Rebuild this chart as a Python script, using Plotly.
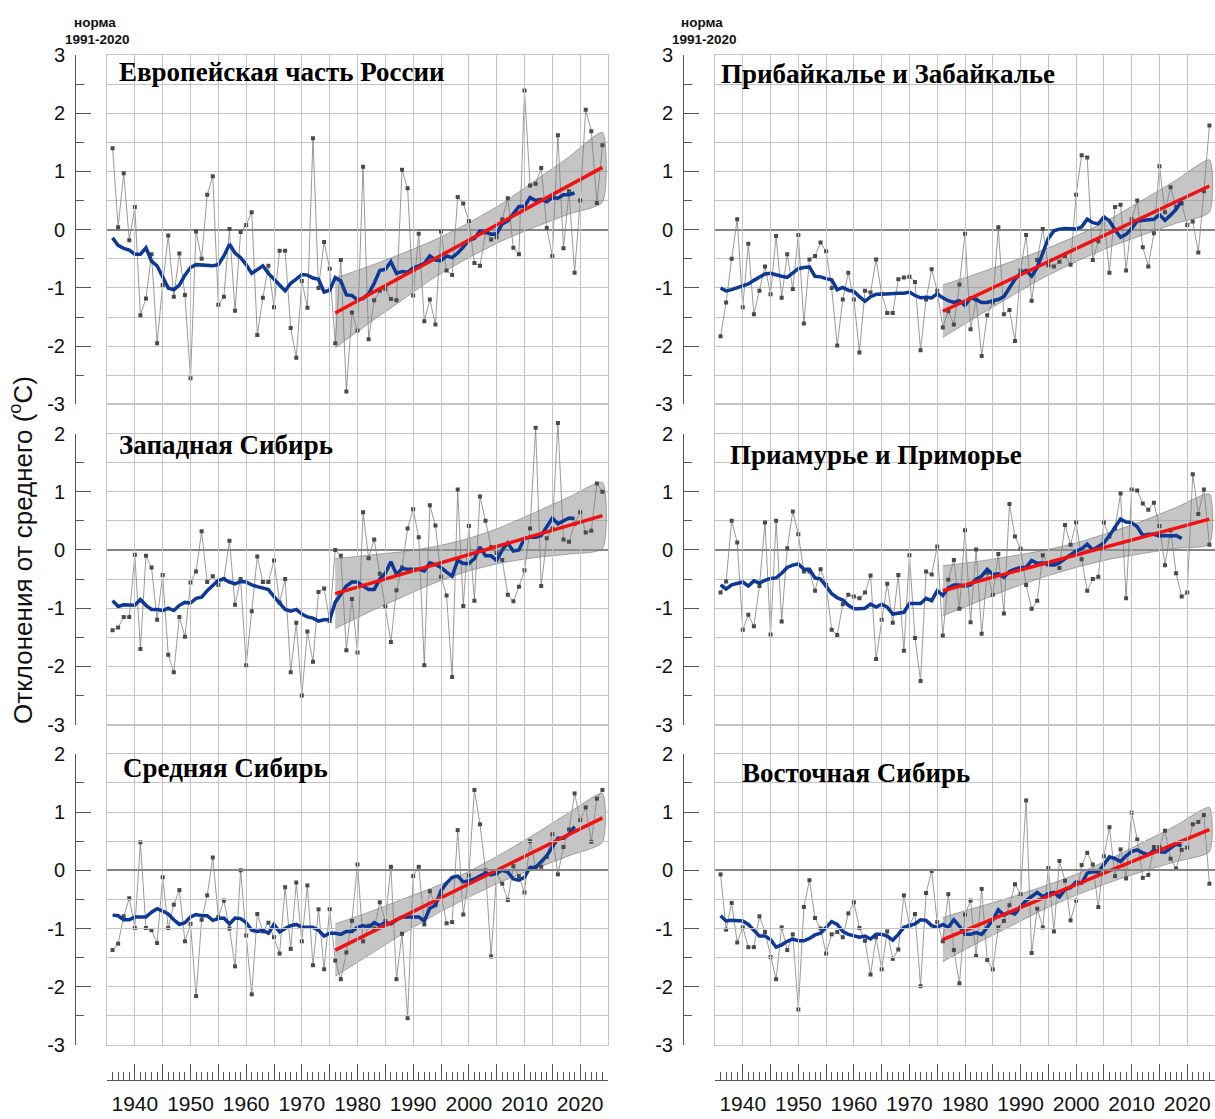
import plotly.graph_objects as go

# ---------------------------------------------------------------- data
years = list(range(1936, 2025))
smooth_years = list(range(1936, 2020))
trend_years = [1976, 2024]
band_years = [1976, 1982, 1988, 1994, 2000, 2006, 2012, 2018, 2024]

grid_years = [1935, 1940, 1945, 1950, 1955, 1960, 1965, 1970, 1975, 1980,
              1985, 1990, 1995, 2000, 2005, 2010, 2015, 2020, 2025]
grid_year_labels = ["", "1940", "", "1950", "", "1960", "", "1970", "", "1980",
                    "", "1990", "", "2000", "", "2010", "", "2020", ""]

y_ticks_top = [-3, -2, -1, 0, 1, 2, 3]
y_labels_top = ["-3", "-2", "-1", "0", "1", "2", "3"]
y_ticks_low = [-3, -2, -1, 0, 1, 2]
y_labels_low = ["-3", "-2", "-1", "0", "1", "2"]

titles = ["Европейская часть России", "Прибайкалье и Забайкалье",
          "Западная Сибирь", "Приамурье и Приморье",
          "Средняя Сибирь", "Восточная Сибирь"]

# Европейская часть России
eur_annual = [1.40, 0.04, 0.97, -0.18, 0.39, -1.47, -1.18, -0.42, -1.95, -0.95,
              -0.10, -1.15, -0.41, -1.12, -2.55, -0.03, -0.50, 0.60, 0.92, -1.29,
              -1.15, 0.01, -1.39, -0.04, 0.08, 0.30, -1.81, -1.17, -0.62, -1.33,
              -0.36, -0.36, -1.69, -2.20, -0.88, -1.34, 1.57, -1.00, -0.21, -0.67,
              -1.95, -0.52, -2.78, -1.42, -1.73, 1.08, -1.88, -1.21, -1.05, -1.02,
              -1.19, -1.21, 1.03, 0.71, -1.13, -0.07, -1.57, -1.20, -1.63, -0.03,
              -0.70, -0.78, 0.56, 0.45, 0.15, -0.57, -0.62, -0.05, -0.17, -0.13,
              0.18, 0.54, -0.31, -0.42, 2.39, 0.76, 0.79, 1.06, 0.03, -0.45,
              1.62, -0.32, 0.66, -0.74, 0.50, 2.06, 1.69, 0.46, 1.45]
eur_smooth = [-0.14, -0.27, -0.32, -0.35, -0.42, -0.42, -0.31, -0.54, -0.62, -0.80,
              -1.00, -1.03, -0.95, -0.78, -0.65, -0.60, -0.61, -0.61, -0.62, -0.60,
              -0.45, -0.25, -0.40, -0.48, -0.60, -0.75, -0.68, -0.62, -0.75, -0.84,
              -0.95, -1.05, -0.92, -0.85, -0.77, -0.78, -0.83, -0.85, -1.07, -1.04,
              -0.82, -0.88, -1.12, -1.13, -1.21, -1.18, -1.10, -0.92, -0.70, -0.68,
              -0.55, -0.75, -0.72, -0.73, -0.66, -0.62, -0.58, -0.45, -0.52, -0.53,
              -0.45, -0.48, -0.40, -0.30, -0.18, -0.15, -0.02, -0.03, -0.08, -0.07,
              0.10, 0.15, 0.28, 0.40, 0.40, 0.55, 0.50, 0.52, 0.48, 0.55,
              0.54, 0.60, 0.60, 0.63]
eur_trend = [-1.43, 1.07]
eur_band_hi = [-0.83, -0.63, -0.41, -0.17, 0.12, 0.45, 0.85, 1.25, 1.67]
eur_band_lo = [-2.03, -1.61, -1.21, -0.81, -0.48, -0.19, 0.05, 0.27, 0.47]

# Западная Сибирь
wsib_annual = [-1.38, -1.33, -1.15, -1.15, -0.08, -1.70, -0.10, -0.30, -1.20, -0.43,
               -1.80, -2.10, -1.15, -1.49, -0.56, -0.37, 0.32, -0.55, -0.45, -0.60,
               -0.50, 0.16, -0.94, -0.50, -1.98, -1.05, -0.11, -0.55, -0.55, -0.18,
               -0.90, -0.50, -2.10, -1.25, -2.50, -1.40, -1.92, -0.72, -0.66, -1.22,
               0.00, -0.10, -1.72, -0.84, -1.76, 0.65, -0.14, 0.18, -0.41, -0.97,
               -1.58, -0.69, -0.30, 0.37, 0.70, 0.22, -1.98, 0.77, 0.42, -0.46,
               -0.78, -2.18, 1.04, -0.96, 0.41, -0.87, 0.92, 0.50, 0.05, -0.05,
               -0.17, -0.77, -0.88, -0.63, -0.35, 0.37, 2.10, -0.62, 0.20, 0.37,
               2.18, 0.18, 0.14, 0.45, 0.65, 0.30, 0.33, 1.14, 1.00]
wsib_smooth = [-0.87, -0.97, -0.94, -0.95, -0.95, -0.85, -0.95, -1.02, -1.02, -1.04,
               -1.00, -1.04, -0.95, -0.90, -0.91, -0.83, -0.81, -0.70, -0.60, -0.52,
               -0.50, -0.55, -0.58, -0.54, -0.55, -0.60, -0.63, -0.65, -0.68, -0.80,
               -0.90, -1.02, -1.05, -1.02, -1.10, -1.15, -1.17, -1.22, -1.20, -1.20,
               -0.90, -0.75, -0.62, -0.55, -0.55, -0.62, -0.68, -0.68, -0.50, -0.40,
               -0.20, -0.42, -0.32, -0.33, -0.33, -0.33, -0.36, -0.22, -0.25, -0.30,
               -0.38, -0.45, -0.18, -0.23, -0.23, -0.15, 0.05, -0.10, -0.10, -0.18,
               0.00, 0.12, -0.02, 0.00, 0.20, 0.22, 0.22, 0.25, 0.40, 0.55,
               0.45, 0.50, 0.55, 0.54]
wsib_trend = [-0.75, 0.59]
wsib_band_hi = [-0.15, -0.09, -0.03, 0.06, 0.20, 0.40, 0.65, 0.91, 1.16]
wsib_band_lo = [-1.35, -1.07, -0.81, -0.56, -0.36, -0.22, -0.13, -0.07, 0.02]

# Средняя Сибирь
csib_annual = [-1.37, -1.26, -0.79, -0.48, -0.99, 0.48, -0.99, -1.03, -1.25, -0.12,
               -0.99, -0.59, -0.34, -1.22, -0.92, -2.16, -0.85, -0.43, 0.22, -0.80,
               -0.52, -1.00, -1.65, 0.00, -1.12, -2.13, -0.75, -1.05, -0.90, -1.15,
               -1.43, -0.29, -1.35, -0.21, -1.22, -0.26, -1.63, -0.67, -1.70, -0.67,
               -1.55, -1.87, -1.41, -0.87, 0.10, -1.22, -0.95, -1.00, -0.55, -0.87,
               0.06, -1.87, -1.09, -2.54, -0.10, 0.06, -0.93, -0.36, -0.60, -0.40,
               -0.91, -0.89, 0.69, -0.76, -0.09, 1.38, 0.79, 0.00, -1.48, -0.05,
               -0.23, -0.51, 0.07, -0.10, -0.38, 0.50, 0.05, 0.06, 0.23, 0.62,
               -0.07, 0.40, 0.70, 1.32, 0.86, 1.08, 0.49, 1.23, 1.38]
csib_smooth = [-0.77, -0.78, -0.85, -0.85, -0.80, -0.80, -0.80, -0.72, -0.66, -0.70,
               -0.75, -0.85, -0.93, -0.90, -0.80, -0.76, -0.78, -0.78, -0.86, -0.83,
               -0.82, -0.92, -0.82, -0.83, -0.90, -1.03, -1.05, -1.03, -1.08, -0.93,
               -1.06, -1.00, -0.95, -0.93, -0.98, -0.98, -0.98, -1.03, -1.13, -1.08,
               -1.08, -1.10, -1.05, -1.05, -0.98, -0.95, -0.98, -0.90, -0.95, -0.90,
               -0.92, -0.85, -0.80, -0.80, -0.80, -0.80, -0.87, -0.65, -0.60, -0.35,
               -0.22, -0.12, -0.10, -0.20, -0.18, -0.15, -0.10, -0.05, -0.08, -0.05,
               0.00, -0.03, -0.15, -0.17, -0.12, 0.05, 0.05, 0.15, 0.25, 0.40,
               0.55, 0.55, 0.62, 0.75]
csib_trend = [-1.37, 0.90]
csib_band_hi = [-0.92, -0.72, -0.50, -0.28, -0.02, 0.29, 0.63, 0.99, 1.32]
csib_band_lo = [-1.82, -1.46, -1.10, -0.76, -0.46, -0.19, 0.03, 0.25, 0.48]

# Прибайкалье и Забайкалье
baik_annual = [-1.83, -1.25, -0.50, 0.18, -1.33, -0.24, -1.45, -1.05, -0.63, -1.11,
               -0.11, -1.17, -0.42, -1.02, -0.09, -1.61, -0.51, -0.45, -0.22, -0.37,
               -1.00, -1.99, -1.20, -0.74, -1.20, -2.11, -1.05, -1.08, -0.51, -1.10,
               -1.43, -1.43, -0.85, -0.82, -0.81, -0.90, -2.07, -1.20, -0.68, -1.05,
               -1.68, -1.40, -1.63, -0.94, -0.07, -1.71, -1.20, -2.17, -1.47, -1.25,
               0.04, -1.45, -1.38, -1.91, -0.70, -0.09, -1.22, -0.52, 0.01, -0.61,
               -0.63, -0.55, -0.45, -0.60, 0.60, 1.28, 1.24, -0.52, -0.20, 0.20,
               -0.74, 0.39, 0.43, -0.70, 0.18, 0.50, -0.30, -0.63, -0.06, 1.09,
               0.30, 0.73, 0.39, 0.45, 0.08, 0.14, -0.39, 0.66, 1.79]
baik_smooth = [-1.00, -1.05, -1.03, -1.00, -0.97, -0.93, -0.87, -0.82, -0.76, -0.75,
               -0.78, -0.80, -0.82, -0.74, -0.67, -0.65, -0.64, -0.80, -0.81, -0.84,
               -0.86, -1.03, -0.99, -1.04, -1.06, -1.15, -1.23, -1.15, -1.11, -1.11,
               -1.10, -1.09, -1.09, -1.09, -1.07, -1.13, -1.17, -1.16, -1.17, -1.10,
               -1.17, -1.22, -1.25, -1.22, -1.30, -1.17, -1.20, -1.25, -1.25, -1.22,
               -1.20, -1.15, -1.00, -0.85, -0.75, -0.70, -0.80, -0.65, -0.40, -0.15,
               -0.02, 0.01, 0.02, 0.02, 0.01, 0.05, 0.18, 0.12, 0.10, 0.22,
               0.15, 0.00, -0.13, -0.08, 0.02, 0.15, 0.16, 0.17, 0.18, 0.26,
               0.16, 0.25, 0.35, 0.50]
baik_trend = [-1.40, 0.75]
baik_band_hi = [-0.95, -0.76, -0.56, -0.35, -0.11, 0.18, 0.51, 0.85, 1.20]
baik_band_lo = [-1.85, -1.50, -1.16, -0.83, -0.55, -0.30, -0.09, 0.11, 0.30]

# Приамурье и Приморье
amur_annual = [-0.73, -0.54, 0.50, 0.13, -1.37, -1.11, -1.31, -0.62, 0.47, -1.45,
               0.50, -1.23, 0.03, 0.66, 0.27, -0.37, -0.37, -0.70, -0.33, -0.60,
               -1.37, -1.46, -0.93, -0.77, -0.80, -0.83, -0.73, -0.44, -1.87, -1.20,
               -0.58, -1.25, -0.43, -1.73, -0.09, -1.51, -2.25, -0.37, -0.42, 0.06,
               -1.47, -0.51, -0.17, -1.01, 0.34, -1.24, 0.01, -1.44, -0.39, -0.77,
               -0.07, -1.09, 0.79, 0.23, 0.02, -0.60, -1.01, -0.87, -0.09, -0.25,
               -0.20, -0.31, 0.43, 0.09, 0.47, -0.16, -0.70, -0.50, -0.46, 0.47,
               0.23, 0.37, 0.97, -0.83, 1.04, 1.02, 0.80, 0.69, 0.81, 0.41,
               -0.26, 0.34, -0.40, -0.80, -0.73, 1.30, 0.62, 1.04, 0.09]
amur_smooth = [-0.60, -0.67, -0.60, -0.57, -0.55, -0.62, -0.53, -0.57, -0.52, -0.49,
               -0.48, -0.40, -0.30, -0.26, -0.24, -0.33, -0.33, -0.48, -0.50, -0.62,
               -0.75, -0.82, -0.86, -0.95, -1.01, -1.01, -1.00, -0.93, -0.98, -0.93,
               -0.98, -1.10, -1.09, -1.07, -0.92, -0.92, -0.92, -0.83, -0.87, -0.70,
               -0.78, -0.65, -0.60, -0.60, -0.62, -0.60, -0.50, -0.45, -0.33, -0.42,
               -0.41, -0.47, -0.37, -0.33, -0.30, -0.30, -0.18, -0.23, -0.22, -0.25,
               -0.26, -0.22, -0.15, -0.08, -0.02, 0.02, 0.10, 0.00, 0.06, 0.12,
               0.25, 0.40, 0.53, 0.48, 0.47, 0.40, 0.25, 0.27, 0.27, 0.24,
               0.25, 0.24, 0.25, 0.20]
amur_trend = [-0.70, 0.53]
amur_band_hi = [-0.27, -0.20, -0.11, -0.01, 0.12, 0.30, 0.50, 0.73, 0.96]
amur_band_lo = [-1.13, -0.90, -0.67, -0.47, -0.30, -0.16, -0.06, 0.03, 0.10]

# Восточная Сибирь
esib_annual = [-0.07, -1.02, -0.56, -1.24, -0.98, -1.32, -1.32, -0.79, -1.06, -1.49,
               -1.87, -0.98, -1.37, -1.10, -2.39, -0.63, -0.17, -0.82, -1.00, -1.43,
               -1.10, -1.06, -1.15, -0.74, -0.55, -0.99, -1.21, -1.79, -1.15, -1.70,
               -1.05, -1.52, -1.36, -0.43, -0.95, -0.75, -1.99, -0.39, -0.01, -0.89,
               -1.22, -0.41, -1.37, -1.94, -0.76, -0.52, -1.47, -0.32, -1.54, -1.70,
               -0.98, -0.87, -0.60, -0.24, -0.41, 1.20, -1.42, -0.66, -0.98, 0.04,
               -1.05, 0.16, -0.18, -0.86, -0.52, 0.09, 0.30, 0.10, -0.63, 0.24,
               0.74, -0.10, 0.36, -0.14, 0.99, 0.53, -0.13, -0.08, 0.40, 0.40,
               0.68, 0.20, 0.03, 0.35, 0.39, 0.79, 0.83, 0.95, -0.23]
esib_smooth = [-0.78, -0.87, -0.86, -0.86, -0.87, -0.93, -1.02, -1.13, -1.13, -1.19,
               -1.32, -1.28, -1.22, -1.18, -1.21, -1.21, -1.17, -1.11, -1.08, -0.98,
               -0.88, -0.93, -1.05, -1.10, -1.12, -1.15, -1.13, -1.18, -1.10, -1.10,
               -1.13, -1.20, -1.10, -0.98, -0.95, -0.92, -0.85, -0.86, -0.95, -0.98,
               -0.93, -0.98, -0.85, -0.96, -1.10, -1.10, -1.07, -1.10, -0.98, -0.85,
               -0.68, -0.77, -0.72, -0.75, -0.62, -0.52, -0.45, -0.38, -0.45, -0.40,
               -0.38, -0.46, -0.33, -0.30, -0.20, -0.22, -0.05, -0.02, -0.03, 0.10,
               0.23, 0.20, 0.15, 0.25, 0.32, 0.35, 0.30, 0.27, 0.34, 0.32,
               0.31, 0.38, 0.45, 0.42]
esib_trend = [-1.19, 0.70]
esib_band_hi = [-0.81, -0.64, -0.47, -0.28, -0.07, 0.19, 0.48, 0.77, 1.08]
esib_band_lo = [-1.57, -1.26, -0.97, -0.68, -0.43, -0.21, -0.02, 0.15, 0.32]

# ---------------------------------------------------------------- layout
W, H = 1215, 1119
GRID = "#c4c4c4"
AXIS = "#555555"
SERIES_GRAY = "#808080"
MARKER_GRAY = "#4a4a4a"
BLUE = "#0d3896"
RED = "#f21010"
BAND_FILL = "rgba(150,150,150,0.55)"
BAND_EDGE = "rgba(110,110,110,0.8)"


def fx(px):
    return px / W


def fy(py):
    return 1 - py / H


# plot columns (pixels) and y-axis line position for each column
col_px = [(107, 608), (715, 1215)]
axis_line_px = [75, 683]
# panel rows: top pixel, bottom pixel, upper value of the grid, upper labelled value
rows = [(55.0, 404.4, 3.0, 3), (404.4, 724.7, 2.5, 2), (724.7, 1045.0, 2.5, 2)]
px_per_unit = 58.24

panels = [
    (eur_annual, eur_smooth, eur_trend, eur_band_hi, eur_band_lo),
    (baik_annual, baik_smooth, baik_trend, baik_band_hi, baik_band_lo),
    (wsib_annual, wsib_smooth, wsib_trend, wsib_band_hi, wsib_band_lo),
    (amur_annual, amur_smooth, amur_trend, amur_band_hi, amur_band_lo),
    (csib_annual, csib_smooth, csib_trend, csib_band_hi, csib_band_lo),
    (esib_annual, esib_smooth, esib_trend, esib_band_hi, esib_band_lo),
]

fig = go.Figure()
layout_axes = {}

for i, (annual, smooth, trend, band_hi, band_lo) in enumerate(panels):
    n = i + 1
    col = i % 2
    row = i // 2
    x0, x1 = col_px[col]
    top_px, bot_px, ytop, ylab = rows[row]
    xa = "x" if n == 1 else f"x{n}"
    ya = "y" if n == 1 else f"y{n}"

    # confidence band of the linear trend
    fig.add_trace(go.Scatter(
        x=band_years + band_years[::-1], y=band_hi + band_lo[::-1],
        mode="lines", fill="toself", fillcolor=BAND_FILL,
        line=dict(color=BAND_EDGE, width=0.7, shape="spline", smoothing=0.6),
        xaxis=xa, yaxis=ya, hoverinfo="skip", showlegend=False))
    # annual anomalies
    fig.add_trace(go.Scatter(
        x=years, y=annual, mode="lines+markers",
        line=dict(color=SERIES_GRAY, width=0.8),
        marker=dict(symbol="square", size=4, color=MARKER_GRAY),
        xaxis=xa, yaxis=ya, showlegend=False))
    # smoothed curve
    fig.add_trace(go.Scatter(
        x=smooth_years, y=smooth, mode="lines",
        line=dict(color=BLUE, width=3.5),
        xaxis=xa, yaxis=ya, showlegend=False))
    # linear trend
    fig.add_trace(go.Scatter(
        x=trend_years, y=trend, mode="lines",
        line=dict(color=RED, width=3.5),
        xaxis=xa, yaxis=ya, showlegend=False))

    layout_axes["xaxis" if n == 1 else f"xaxis{n}"] = dict(
        domain=[fx(x0), fx(x1)], range=[1935, 2025], anchor=ya,
        tickmode="array", tickvals=grid_years, showticklabels=False, ticks="",
        showgrid=True, gridcolor=GRID, gridwidth=1,
        showline=True, mirror=True, linecolor=GRID, linewidth=1,
        zeroline=False, fixedrange=True, automargin=False)
    layout_axes["yaxis" if n == 1 else f"yaxis{n}"] = dict(
        domain=[fy(bot_px), fy(top_px)], range=[-3, ytop], anchor=xa,
        tick0=0, dtick=0.5, showticklabels=False, ticks="",
        showgrid=True, gridcolor=GRID, gridwidth=1,
        showline=True, mirror=True, linecolor=GRID, linewidth=1,
        zeroline=True, zerolinecolor="#858585", zerolinewidth=1.6,
        fixedrange=True, automargin=False)

    # separate labelled value axis to the left of the panel
    m = n + 6
    lab_top_px = bot_px - (ylab + 3) * px_per_unit
    fig.add_trace(go.Scatter(x=[None], y=[None], xaxis=xa, yaxis=f"y{m}",
                             showlegend=False, hoverinfo="skip"))
    layout_axes[f"yaxis{m}"] = dict(
        domain=[fy(bot_px), fy(lab_top_px)], range=[-3, ylab],
        anchor="free", position=fx(axis_line_px[col]), side="left",
        tickmode="array",
        tickvals=y_ticks_top if row == 0 else y_ticks_low,
        ticktext=y_labels_top if row == 0 else y_labels_low,
        ticks="inside", ticklen=15, tickcolor=AXIS, tickwidth=1,
        minor=dict(tickmode="linear", tick0=0, dtick=0.5, ticks="inside",
                   ticklen=8, tickcolor=AXIS, tickwidth=1, showgrid=False),
        showline=True, linecolor=AXIS, linewidth=1,
        showgrid=False, zeroline=False, ticklabelstandoff=6,
        tickfont=dict(size=20, color="#111111"), fixedrange=True,
        automargin=False)

# year axes below the bottom panels
for col, (n_base, xname) in enumerate([(5, "x13"), (6, "x14")]):
    x0, x1 = col_px[col]
    fig.add_trace(go.Scatter(x=[None], y=[None], xaxis=xname, yaxis=f"y{n_base}",
                             showlegend=False, hoverinfo="skip"))
    layout_axes[f"xaxis{xname[1:]}"] = dict(
        domain=[fx(x0), fx(x1)], range=[1935, 2025],
        anchor="free", position=fy(1080),
        tickmode="array", tickvals=grid_years, ticktext=grid_year_labels,
        ticks="inside", ticklen=16, tickcolor=AXIS, tickwidth=1,
        minor=dict(tickmode="linear", tick0=1935, dtick=1, ticks="inside",
                   ticklen=8, tickcolor=AXIS, tickwidth=1, showgrid=False),
        showline=True, linecolor=AXIS, linewidth=1,
        showgrid=False, zeroline=False, ticklabelstandoff=5,
        tickfont=dict(size=21, color="#111111"), fixedrange=True,
        automargin=False)

fig.update_layout(**layout_axes)

# panel titles
title_pos = [(117, 72), (719, 74), (117, 445), (728, 455), (121, 768), (740, 773)]
annotations = []
for text, (px, py) in zip(titles, title_pos):
    annotations.append(dict(
        text=f"<b>{text}</b>", x=fx(px), y=fy(py), xref="paper", yref="paper",
        xanchor="left", yanchor="middle", showarrow=False,
        font=dict(family="Liberation Serif, Times New Roman, serif", size=27,
                  color="#000000")))

for cx in (95, 702):
    annotations.append(dict(
        text="<b>норма</b>", x=fx(cx), y=fy(22), xref="paper", yref="paper",
        xanchor="center", yanchor="middle", showarrow=False,
        font=dict(size=13.5, color="#111111")))
    annotations.append(dict(
        text="<b>1991-2020</b>", x=fx(cx + 2), y=fy(39), xref="paper", yref="paper",
        xanchor="center", yanchor="middle", showarrow=False,
        font=dict(size=13.5, color="#111111")))

annotations.append(dict(
    text="Отклонения от среднего (<sup>o</sup>C)", x=fx(21), y=fy(550),
    xref="paper", yref="paper", xanchor="center", yanchor="middle",
    textangle=-90, showarrow=False, font=dict(size=26, color="#111111")))

fig.update_layout(
    width=W, height=H, autosize=False,
    margin=dict(l=0, r=0, t=0, b=0, pad=0, autoexpand=False),
    paper_bgcolor="white", plot_bgcolor="rgba(0,0,0,0)",
    font=dict(family="Liberation Sans, Arial, sans-serif", color="#111111"),
    showlegend=False, annotations=annotations,
)

fig.write_html("out.html")
